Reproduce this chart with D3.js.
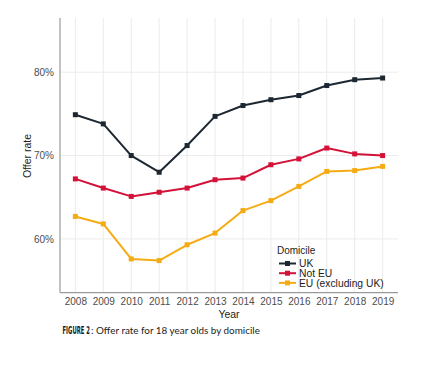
<!DOCTYPE html>
<html><head><meta charset="utf-8">
<script src="https://cdn.jsdelivr.net/npm/d3@7/dist/d3.min.js"></script>
<style>body{margin:0;background:#fff;} svg{display:block;}</style>
</head><body>
<script>
const years = [2008,2009,2010,2011,2012,2013,2014,2015,2016,2017,2018,2019];
const ukValues    = [74.9,73.8,70.0,68.0,71.2,74.7,76.0,76.7,77.2,78.4,79.1,79.3];
const notEuValues = [67.2,66.1,65.1,65.6,66.1,67.1,67.3,68.9,69.6,70.9,70.2,70.0];
const euValues    = [62.7,61.8,57.6,57.4,59.3,60.7,63.4,64.6,66.3,68.1,68.2,68.7];
const seriesNames = ["UK","Not EU","EU (excluding UK)"];
const yTicks = [60,70,80];

const colors = {"UK":"#1c2731","Not EU":"#d41138","EU (excluding UK)":"#f5ac14"};
const series = [
  {name:"UK", values: ukValues},
  {name:"Not EU", values: notEuValues},
  {name:"EU (excluding UK)", values: euValues}
];

const W=421,H=365;
const svg=d3.select("body").append("svg").attr("width",W).attr("height",H);
const L=60,R=398,T=18,B=292.7;
const x=d3.scaleLinear().domain([2007.45,2019.55]).range([L,R]);
const y=d3.scaleLinear().domain([53.55,86.5]).range([B,T]);

// gridlines
svg.append("g").selectAll("line").data(years).join("line")
  .attr("x1",d=>x(d)).attr("x2",d=>x(d)).attr("y1",T).attr("y2",B)
  .attr("stroke","#ebebeb").attr("stroke-width",1);
svg.append("g").selectAll("line").data(yTicks).join("line")
  .attr("x1",L).attr("x2",R).attr("y1",d=>y(d)).attr("y2",d=>y(d))
  .attr("stroke","#ebebeb").attr("stroke-width",1);

// axes
const xAxis=svg.append("g").attr("transform",`translate(0,${B})`)
  .call(d3.axisBottom(x).tickValues(years).tickFormat(d3.format("d")).tickSize(0).tickPadding(5));
const yAxis=svg.append("g").attr("transform",`translate(${L},0)`)
  .call(d3.axisLeft(y).tickValues(yTicks).tickFormat(d=>d+"%").tickSize(0).tickPadding(6));
[xAxis,yAxis].forEach(a=>{
  a.select(".domain").attr("stroke","#9a9a9a").attr("stroke-width",1.2);
  a.selectAll("text").attr("fill","#4d4d4d").style("font-family","Liberation Sans, Arial, sans-serif").style("font-size","10px");
});
xAxis.select(".domain").attr("d",`M${L},0H${R}`);
yAxis.select(".domain").attr("d",`M0,${T}V${B}`);

// lines
const line=d3.line().x((d,i)=>x(years[i])).y(d=>y(d));
series.forEach(s=>{
  svg.append("path").datum(s.values).attr("d",line)
    .attr("fill","none").attr("stroke",colors[s.name]).attr("stroke-width",2).attr("stroke-linejoin","round");
  svg.append("g").selectAll("rect").data(s.values).join("rect")
    .attr("x",(d,i)=>x(years[i])-2.5).attr("y",d=>y(d)-2.5).attr("width",5).attr("height",5)
    .attr("fill",colors[s.name]);
});

// axis titles
svg.append("text").attr("x",229).attr("y",318).attr("text-anchor","middle")
  .style("font-family","Liberation Sans, Arial, sans-serif").style("font-size","10.5px").attr("fill","#222").text("Year");
svg.append("text").attr("transform","translate(31,156) rotate(-90)").attr("text-anchor","middle")
  .style("font-family","Liberation Sans, Arial, sans-serif").style("font-size","10.5px").attr("fill","#222").text("Offer rate");

// legend
const lg=svg.append("g");
lg.append("text").attr("x",277).attr("y",254).text("Domicile")
  .style("font-family","Liberation Sans, Arial, sans-serif").style("font-size","10px").attr("fill","#222");
seriesNames.forEach((n,i)=>{
  const yy=263.5+i*9.7;
  lg.append("line").attr("x1",279).attr("x2",296).attr("y1",yy).attr("y2",yy).attr("stroke",colors[n]).attr("stroke-width",2);
  lg.append("rect").attr("x",285).attr("y",yy-2.5).attr("width",5).attr("height",5).attr("fill",colors[n]);
  lg.append("text").attr("x",299).attr("y",yy+3.6).text(n)
    .style("font-family","Liberation Sans, Arial, sans-serif").style("font-size","10.3px").attr("fill","#222");
});

// caption
const fig=svg.append("text").attr("x",0).attr("y",0)
  .style("font-family","DejaVu Sans Condensed, sans-serif").style("font-weight","bold").style("font-size","11px")
  .attr("fill","#1a1a1a").text("FIGURE 2");
const natW=fig.node().getComputedTextLength()||40;
fig.attr("transform",`translate(62.5,334) scale(${27.5/natW},1)`);
svg.append("text").attr("x",91).attr("y",334)
  .style("font-family","Lato, sans-serif").style("font-size","9.9px").attr("fill","#222")
  .text(": Offer rate for 18 year olds by domicile");
</script>
</body></html>
